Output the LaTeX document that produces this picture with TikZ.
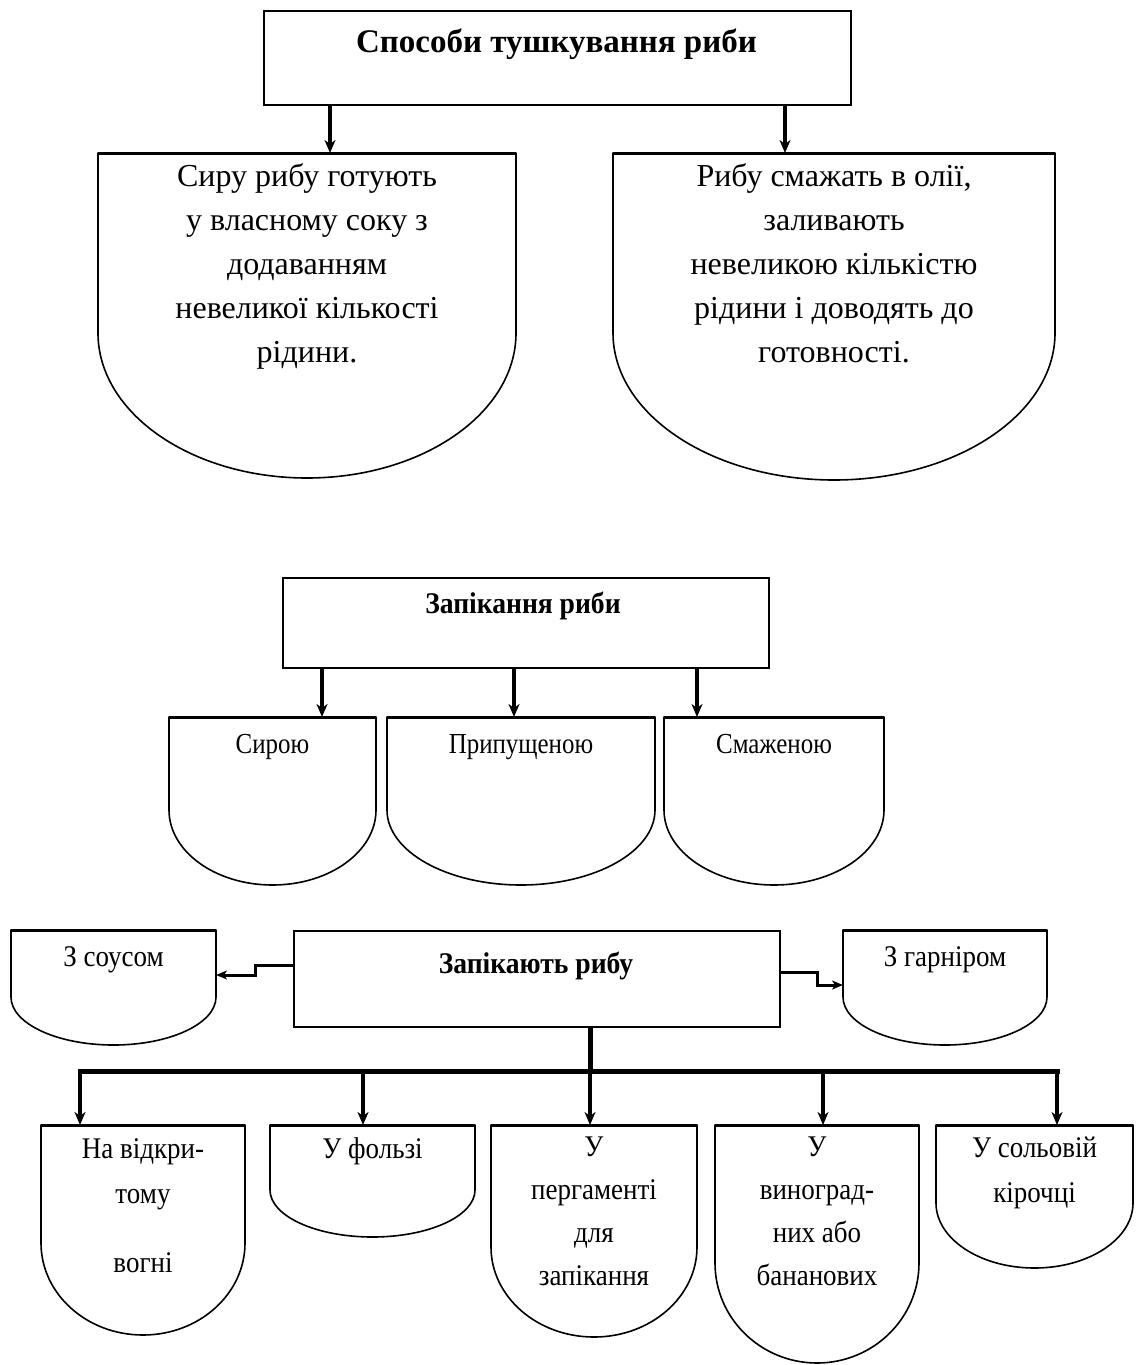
\documentclass[tikz,border=0pt]{standalone}
\usepackage{fontspec}
\setmainfont{Liberation Serif}
\newfontfamily\condserif[FakeStretch=0.86]{Liberation Serif}
\newfontfamily\semiserif[FakeStretch=0.9]{Liberation Serif}
\newfontfamily\headserif[FakeStretch=0.92]{Liberation Serif}
\usetikzlibrary{arrows.meta}

% Flat-topped block with straight sides and a rounded (half-ellipse) bottom.
% #1 name, #2 left x, #3 right x, #4 top y, #5 y where the sides end, #6 bottom y
\newcommand\cupshape[6]{%
  \pgfmathsetmacro\cupW{#3-#2}%
  \pgfmathsetmacro\cupH{#6-#4}%
  \pgfmathsetmacro\cupC{(#2+#3)/2}%
  \pgfmathsetmacro\cupKx{0.5523*(#3-#2)/2}%
  \pgfmathsetmacro\cupKy{#5+0.5523*(#6-#5)}%
  \node[inner sep=0pt, outer sep=0pt, minimum width=\cupW pt,
        minimum height=\cupH pt, anchor=north west] (#1) at (#2,#4) {};
  \draw[outline] (#1.north west) -- (#1.north east) -- (#3,#5)
    .. controls (#3,\cupKy) and ({\cupC+\cupKx},#6) .. (\cupC,#6)
    .. controls ({\cupC-\cupKx},#6) and (#2,\cupKy) .. (#2,#5) -- cycle;
  \draw[rim] (#1.north west) -- (#1.north east);
}

\begin{document}
\begin{tikzpicture}[x=1pt,y=-1pt,
  frame/.style={draw, line width=2pt, inner sep=0pt, anchor=north west},
  outline/.style={line width=1.6pt, line join=round},
  rim/.style={line width=3pt},
  arr/.style={line width=4.5pt, -{Stealth[length=13pt,width=11pt,inset=4pt]}},
  sidearr/.style={line width=3pt, -{Stealth[length=11pt,width=9pt,inset=3pt]}},
  busline/.style={line width=5pt, line cap=rect},
  ttl/.style={font=\bfseries\fontsize{33}{38}\selectfont, inner sep=0pt, anchor=base},
  ttlb/.style={font=\bfseries\headserif\fontsize{30}{36}\selectfont, inner sep=0pt, anchor=base},
  body/.style={font=\fontsize{32}{44}\selectfont, align=center, inner sep=0pt, anchor=north},
  lbl/.style={font=\condserif\fontsize{29}{35}\selectfont, inner sep=0pt, anchor=base},
  lblw/.style={font=\semiserif\fontsize{30}{35}\selectfont, inner sep=0pt, anchor=base},
  low/.style={font=\semiserif\fontsize{30}{45}\selectfont, align=center, inner sep=0pt, anchor=north},
  lowtight/.style={font=\semiserif\fontsize{30}{43}\selectfont, align=center, inner sep=0pt, anchor=north},
]
\fill[white] (0,0) rectangle (1135,1365);
\useasboundingbox (0,0) rectangle (1135,1365);

% ---------- stewing ----------
\node[frame, minimum width=587pt, minimum height=94pt] (stew) at (263,10) {};
\node[ttl] (stewt) at (556.5,52) {Способи тушкування риби};

\cupshape{raw}{98}{516}{153}{333}{478}
\cupshape{fried}{613}{1055}{153}{333}{480}
\node[body] (rawt) at (307,155.2) {\strut Сиру рибу готують\\у власному соку з\\додаванням\\невеликої кількості\\рідини.};
\node[body] (friedt) at (834,155.2) {\strut Рибу смажать в олії,\\заливають\\невеликою кількістю\\рідини і доводять до\\готовності.};

\coordinate (xa) at (330,0);
\coordinate (xb) at (785,0);
\draw[arr] (stew.south -| xa) -- (raw.north -| xa);
\draw[arr] (stew.south -| xb) -- (fried.north -| xb);

% ---------- baking ----------
\node[frame, minimum width=486pt, minimum height=90pt] (bake) at (282,577) {};
\node[ttlb] (baket) at (523,613) {Запікання риби};

\cupshape{braw}{169}{376}{717}{810}{885}
\cupshape{bpoach}{387}{655}{717}{810}{885}
\cupshape{bfry}{664}{884}{717}{810}{885}
\node[lbl] (brawt) at (272.5,753) {Сирою};
\node[lbl] (bpoacht) at (521,753) {Припущеною};
\node[lbl] (bfryt) at (774,753) {Смаженою};

\coordinate (xc) at (322,0);
\coordinate (xd) at (514,0);
\coordinate (xe) at (697,0);
\draw[arr] (bake.south -| xc) -- (braw.north -| xc);
\draw[arr] (bake.south -| xd) -- (bpoach.north -| xd);
\draw[arr] (bake.south -| xe) -- (bfry.north -| xe);

% ---------- ways of baking ----------
\node[frame, minimum width=486pt, minimum height=96pt] (ways) at (293,930) {};
\node[ttlb] (wayst) at (536,973) {Запікають рибу};

\cupshape{sauce}{11}{216}{930}{997}{1045}
\cupshape{garnish}{843}{1047}{930}{997}{1045}
\node[lblw] (saucet) at (113.5,966) {З соусом};
\node[lblw] (garnisht) at (945,966) {З гарніром};

\draw[sidearr] ([yshift=-35pt]ways.north west) -- ++(-38,0) |- ([yshift=-45pt]sauce.north east);
\draw[sidearr] ([yshift=-42pt]ways.north east) -- ++(36,0) |- ([yshift=-55pt]garnish.north west);

\cupshape{fire}{41}{245}{1125}{1243}{1335}
\cupshape{foil}{270}{475}{1125}{1190}{1237}
\cupshape{parch}{491}{697}{1125}{1247}{1337}
\cupshape{leaf}{715}{919}{1125}{1263}{1363}
\cupshape{salt}{936}{1133}{1125}{1203}{1268}

\node[low] (firet) at (143,1126.5) {\strut На відкри-\\тому\\[24pt]вогні};
\node[lblw] (foilt) at (372.5,1158) {У фользі};
\node[lowtight] (parcht) at (594,1126) {\strut У\\пергаменті\\для\\запікання};
\node[lowtight] (leaft) at (817,1126) {\strut У\\виноград-\\них або\\бананових};
\node[low] (saltt) at (1034.5,1125.5) {\strut У сольовій\\кірочці};

\coordinate (busL) at (80,1071);
\coordinate (busR) at (1057,1071);
\coordinate (bx2) at (363,1071);
\coordinate (bx3) at (590,1071);
\coordinate (bx4) at (823,1071);
\draw[busline] (busL) -- (busR);
\draw[busline] (ways.south -| bx3) -- (bx3);
\draw[arr] (busL) -- (fire.north -| busL);
\draw[arr] (bx2) -- (foil.north -| bx2);
\draw[arr] (bx3) -- (parch.north -| bx3);
\draw[arr] (bx4) -- (leaf.north -| bx4);
\draw[arr] (busR) -- (salt.north -| busR);
\end{tikzpicture}
\end{document}
